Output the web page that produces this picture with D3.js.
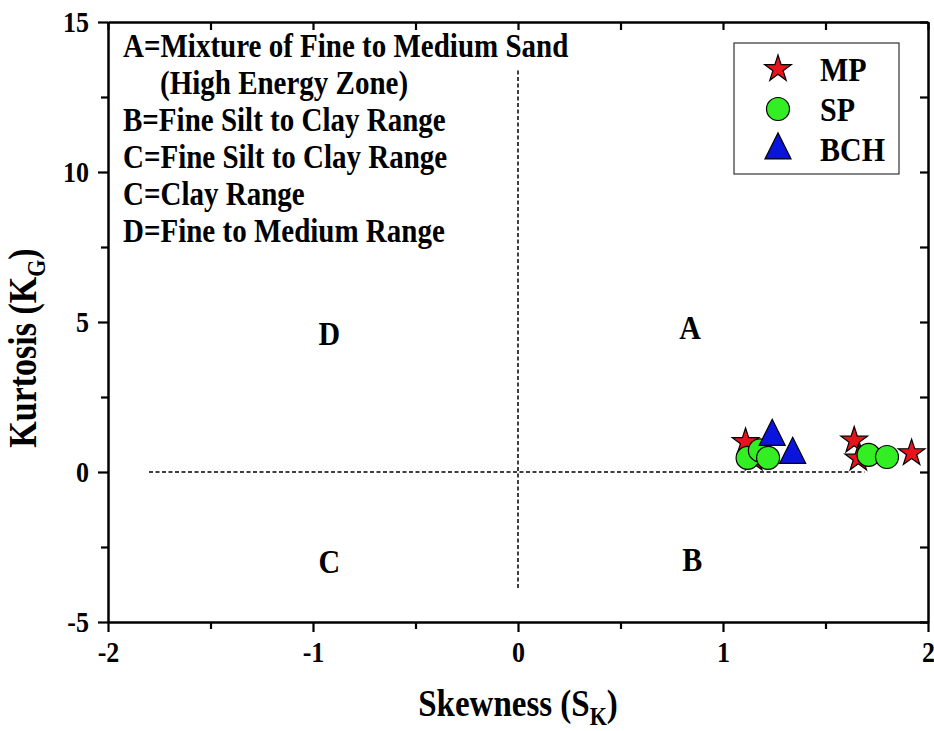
<!DOCTYPE html>
<html>
<head>
<meta charset="utf-8">
<script src="https://cdn.jsdelivr.net/npm/d3@7"></script>
<style>
  html, body { margin: 0; padding: 0; background: #fff; }
  svg text { font-family: "Liberation Serif", "Times New Roman", serif; font-weight: bold; fill: #000; }
</style>
</head>
<body>
<svg id="chart" width="934" height="731"></svg>
<script>
// Skewness (Sk) vs kurtosis (KG) per sampling station
const seriesNames = ["MP", "SP", "BCH"];
const mpSkew = [1.11, 1.15, 1.64, 1.66, 1.92];
const mpKurt = [1.00, 0.45, 1.05, 0.45, 0.63];
const spSkew = [1.12, 1.18, 1.22, 1.71, 1.80];
const spKurt = [0.47, 0.72, 0.47, 0.57, 0.50];
const bchSkew = [1.24, 1.34];
const bchKurt = [1.22, 0.62];

const xMajor = [-2, -1, 0, 1, 2];
const xMinor = [-1.5, -0.5, 0.5, 1.5];
const yMajor = [-5, 0, 5, 10, 15];
const yMinor = [-2.5, 2.5, 7.5, 12.5];

// quadrant letters
const zoneLabels = ["D", "A", "C", "B"];
const zoneSkew = [-0.92, 0.84, -0.92, 0.85];
const zoneKurt = [4.65, 4.83, -2.97, -2.9];

// zone descriptions
const noteLines = [
  "A=Mixture of Fine to Medium Sand",
  "(High Energy Zone)",
  "B=Fine Silt to Clay Range",
  "C=Fine Silt to Clay Range",
  "C=Clay Range",
  "D=Fine to Medium Range"
];

// dashed quadrant dividers
const hDivSkew = [-1.8, 1.69];
const vDivKurt = [-3.87, 13.4];

const margin = { left: 108, top: 22 };
const W = 820, H = 600;
const STRETCH = 1.15; // typeface is drawn slightly tall

const svg = d3.select("#chart");
const g = svg.append("g").attr("transform", `translate(${margin.left},${margin.top})`);

const x = d3.scaleLinear().domain([-2, 2]).range([0, W]);
const y = d3.scaleLinear().domain([-5, 15]).range([H, 0]);

// places a tall text at (px, py) inside parent
function tallText(parent, px, py, size) {
  return parent.append("g")
    .attr("transform", `translate(${px},${py}) scale(1,${STRETCH})`)
    .append("text").style("font-size", size + "px");
}

function styleAxis(sel) {
  sel.select(".domain").attr("stroke", "#000").attr("stroke-width", 2.5);
  sel.selectAll(".tick line").attr("stroke", "#000").attr("stroke-width", 2.2);
}
const fmt = d => String(d);

// bottom axis (major + minor ticks)
const xAx = g.append("g").attr("transform", `translate(0,${H})`)
  .call(d3.axisBottom(x).tickValues(xMajor).tickSize(10).tickSizeOuter(0).tickPadding(8).tickFormat(fmt));
styleAxis(xAx);
xAx.selectAll(".tick text").style("font-size", "26px").attr("dy", "0.72em")
  .attr("transform", `scale(1,${STRETCH})`).attr("y", 16);
const xAxMin = g.append("g").attr("transform", `translate(0,${H})`)
  .call(d3.axisBottom(x).tickValues(xMinor).tickSize(7).tickFormat(""));
xAxMin.select(".domain").remove();
styleAxis(xAxMin);

// left axis
const yAx = g.append("g")
  .call(d3.axisLeft(y).tickValues(yMajor).tickSize(10).tickSizeOuter(0).tickPadding(9).tickFormat(fmt));
styleAxis(yAx);
yAx.selectAll(".tick text").style("font-size", "26px").attr("dy", "0.32em")
  .attr("transform", `scale(1,${STRETCH})`);
const yAxMin = g.append("g")
  .call(d3.axisLeft(y).tickValues(yMinor).tickSize(7).tickFormat(""));
yAxMin.select(".domain").remove();
styleAxis(yAxMin);

// top and right frame with inward ticks
const xTop = g.append("g")
  .call(d3.axisTop(x).tickValues(xMajor.concat(xMinor)).tickSize(-8).tickSizeOuter(0).tickFormat(""));
styleAxis(xTop);
const yRight = g.append("g").attr("transform", `translate(${W},0)`)
  .call(d3.axisRight(y).tickValues(yMajor.concat(yMinor)).tickSize(-8).tickSizeOuter(0).tickFormat(""));
styleAxis(yRight);

// dashed dividers
g.append("line")
  .attr("x1", x(hDivSkew[0])).attr("x2", x(hDivSkew[1]))
  .attr("y1", y(0)).attr("y2", y(0))
  .attr("stroke", "#000").attr("stroke-width", 1.5).attr("stroke-dasharray", "4,2.5");
g.append("line")
  .attr("x1", x(0)).attr("x2", x(0))
  .attr("y1", y(vDivKurt[0])).attr("y2", y(vDivKurt[1]))
  .attr("stroke", "#000").attr("stroke-width", 1.5).attr("stroke-dasharray", "4,2.5");

// zone letters
zoneLabels.forEach((d, i) => {
  tallText(g, x(zoneSkew[i]), y(zoneKurt[i]), 30)
    .attr("text-anchor", "middle").attr("dy", "0.35em").text(d);
});

// zone notes
const noteIndent = [0, 37, 0, 0, 0, 0];
noteLines.forEach((d, i) => {
  tallText(g, 15 + noteIndent[i], 35 + i * 37, 29).text(d);
});

// marker shapes
function starPath(r) {
  return d3.symbol(d3.symbolStar).size(r * r / 0.8908130915292852)();
}
function circlePath(r) {
  return d3.symbol(d3.symbolCircle).size(Math.PI * r * r)();
}
function trianglePath(w, h) {
  return `M0,${-h * 0.62}L${w / 2},${h * 0.38}L${-w / 2},${h * 0.38}Z`;
}
const markers = {
  MP:  { path: starPath(14), fill: "#e8141c" },
  SP:  { path: circlePath(11.5), fill: "#33ee22" },
  BCH: { path: trianglePath(26, 26), fill: "#0a14dc" }
};

const seriesData = [
  { name: "MP", xs: mpSkew, ys: mpKurt },
  { name: "SP", xs: spSkew, ys: spKurt },
  { name: "BCH", xs: bchSkew, ys: bchKurt }
];

seriesData.forEach(s => {
  const m = markers[s.name];
  g.append("g").selectAll("path").data(s.xs).enter().append("path")
    .attr("d", m.path)
    .attr("transform", (d, i) => `translate(${x(d)},${y(s.ys[i])})`)
    .attr("fill", m.fill)
    .attr("stroke", "#000").attr("stroke-width", 1.2);
});

// legend
const lg = svg.append("g").attr("transform", "translate(734,43)");
lg.append("rect").attr("width", 165).attr("height", 131)
  .attr("fill", "#fff").attr("stroke", "#333").attr("stroke-width", 1.2);
seriesNames.forEach((n, i) => {
  const m = markers[n];
  const cy = 26 + i * 40;
  lg.append("path").attr("d", m.path)
    .attr("transform", `translate(44,${cy})`)
    .attr("fill", m.fill).attr("stroke", "#000").attr("stroke-width", 1.2);
  tallText(lg, 86, cy, 30).attr("dy", "0.36em").text(n);
});

// axis titles
const xt = tallText(svg, 518, 716, 33).attr("text-anchor", "middle");
xt.append("tspan").text("Skewness (S");
xt.append("tspan").attr("dy", 8).style("font-size", "22px").text("K");
xt.append("tspan").attr("dy", -8).text(")");

const yt = svg.append("g").attr("transform", "translate(36,348) rotate(-90) scale(1,1.15)")
  .append("text").attr("text-anchor", "middle").style("font-size", "34px");
yt.append("tspan").text("Kurtosis (K");
yt.append("tspan").attr("dy", 8).style("font-size", "22px").text("G");
yt.append("tspan").attr("dy", -8).text(")");
</script>
</body>
</html>
